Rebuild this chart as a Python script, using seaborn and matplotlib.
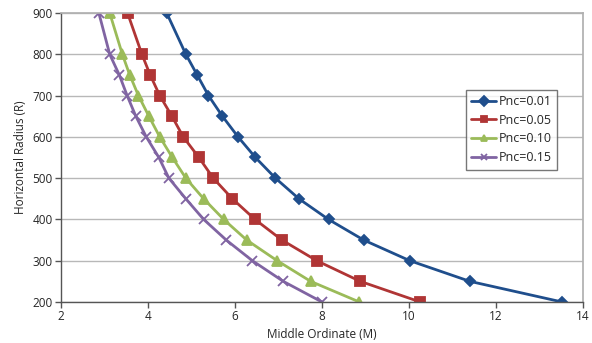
import pandas as pd
import matplotlib
matplotlib.use("Agg")
import matplotlib.pyplot as plt
import seaborn as sns

# rayon horizontal (axe y), identique pour toutes les séries
radius = [900, 800, 750, 700, 650, 600, 550, 500, 450, 400, 350, 300, 250, 200]

# ordonnée médiane (axe x) pour chaque Pnc
m_001 = [4.43, 4.87, 5.13, 5.39, 5.71, 6.07, 6.47, 6.93, 7.47, 8.15, 8.96, 10.02, 11.40, 13.52]
m_005 = [3.53, 3.86, 4.05, 4.27, 4.55, 4.81, 5.17, 5.50, 5.94, 6.46, 7.08, 7.88, 8.88, 10.26]
m_010 = [3.12, 3.41, 3.58, 3.78, 4.02, 4.27, 4.56, 4.87, 5.28, 5.74, 6.27, 6.97, 7.74, 8.86]
m_015 = [2.87, 3.12, 3.34, 3.52, 3.72, 3.96, 4.25, 4.48, 4.87, 5.28, 5.80, 6.40, 7.11, 8.00]

series = ["Pnc=0.01", "Pnc=0.05", "Pnc=0.10", "Pnc=0.15"]
valeurs = [m_001, m_005, m_010, m_015]

couleurs = ["#1f4e8c", "#b03535", "#9bbb59", "#8064a2"]
marqueurs = ["D", "s", "^", "x"]
tailles = [5.5, 7.5, 7.5, 7]

sns.set_theme(style="white")
plt.rcParams["font.family"] = ["Open Sans", "DejaVu Sans"]

fig = plt.figure(figsize=(5.92, 3.43), dpi=100)
ax = fig.add_axes([61 / 592, 1 - 302 / 343, 522 / 592, 289 / 343])

for nom, xs, c, m, t in zip(series, valeurs, couleurs, marqueurs, tailles):
    df = pd.DataFrame({"M": xs, "R": radius})
    sns.lineplot(data=df, x="M", y="R", sort=False, color=c, marker=m,
                 markersize=t, markeredgecolor=c, markeredgewidth=1.3,
                 linewidth=2.0, label=nom, ax=ax)

ax.set_xlim(2, 14)
ax.set_ylim(200, 900)
ax.set_xticks(range(2, 15, 2))
ax.set_yticks(range(200, 901, 100))
ax.yaxis.grid(True, color="#b8b8b8", linewidth=1.0)
ax.set_axisbelow(True)

for s in ["left", "bottom"]:
    ax.spines[s].set_color("#555555")
    ax.spines[s].set_linewidth(1.0)
ax.spines["right"].set_color("#b0b0b0")
ax.spines["top"].set_color("#b0b0b0")
ax.tick_params(axis="both", labelsize=8.5, length=4, width=1.0,
               color="#555555", direction="out", bottom=True, left=True,
               pad=2)

ax.set_xlabel("Middle Ordinate (M)", fontsize=8.5, labelpad=3)
ax.set_ylabel("Horizontal Radius (R)", fontsize=8.5, labelpad=4)

leg = ax.legend(loc="upper right", bbox_to_anchor=(0.95, 0.735),
                fontsize=9, frameon=True, fancybox=False,
                handlelength=2.0, borderpad=0.45, labelspacing=0.45,
                handletextpad=0.15, borderaxespad=0.0)
leg.get_frame().set_edgecolor("#555555")
leg.get_frame().set_linewidth(1.0)
for h in leg.legend_handles:
    h.set_markersize(5)

fig.savefig("out.png", dpi=100)
